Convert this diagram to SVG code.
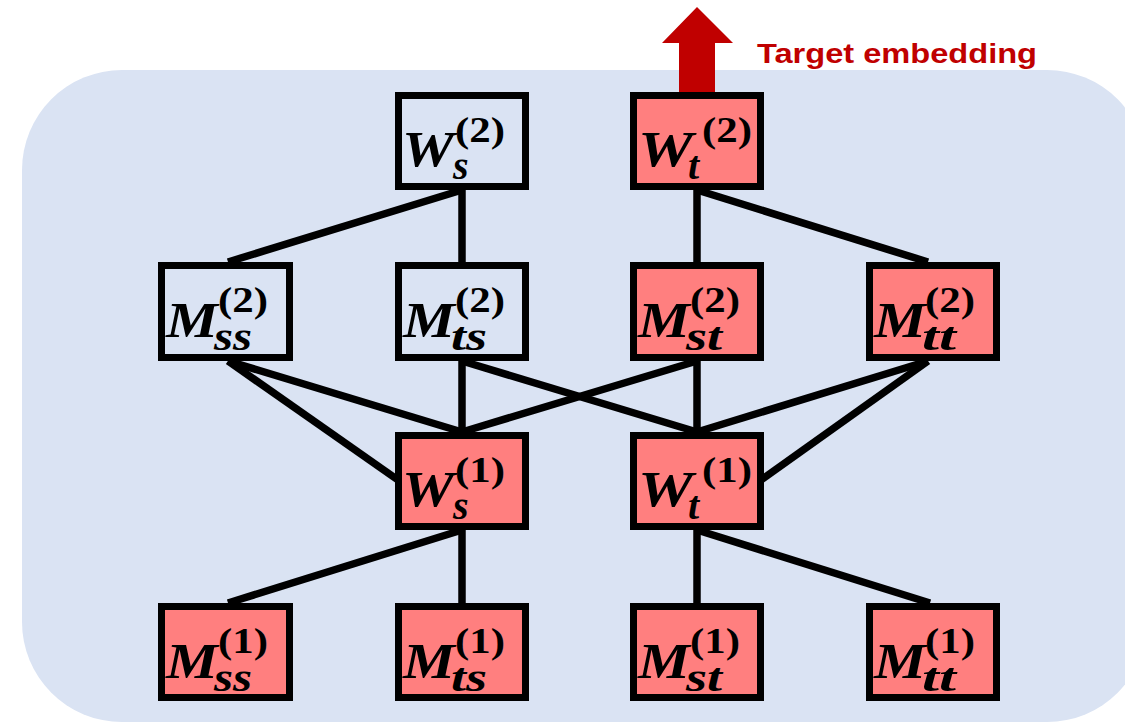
<svg xmlns="http://www.w3.org/2000/svg" width="1125" height="724" viewBox="0 0 1125 724">
  <style>
    .panel { fill: #DAE3F3; }
    .box { stroke: #000; stroke-width: 7; }
    .plain { fill: #DAE3F3; }
    .hot { fill: #FF7F7F; }
    .edge { stroke: #000; stroke-width: 7.5; stroke-linecap: butt; fill: none; }
    .main { font-family: "Liberation Serif", "Times New Roman", serif; font-weight: bold; font-style: italic; font-size: 50px; fill: #000; }
    .sup { font-family: "Liberation Serif", "Times New Roman", serif; font-weight: bold; font-size: 36px; fill: #000; }
    .sub { font-family: "Liberation Serif", "Times New Roman", serif; font-weight: bold; font-style: italic; font-size: 40px; fill: #000; }
    .label { font-family: "Liberation Sans", Arial, sans-serif; font-weight: bold; font-size: 28px; fill: #C00000; }
  </style>

  <!-- background panel -->
  <rect class="panel" x="22" y="70" width="1125" height="652" rx="100" ry="100"/>

  <!-- output arrow -->
  <g id="output">
    <path d="M679,95 L679,43 L662,43 L697,7 L733,43 L715,43 L715,95 Z" fill="#C00000"/>
    <text class="label" x="757" y="63" textLength="280" lengthAdjust="spacingAndGlyphs">Target embedding</text>
  </g>

  <!-- connectors -->
  <g id="connectors">
    <line class="edge" x1="462" y1="190" x2="228" y2="262"/>
    <line class="edge" x1="462" y1="190" x2="462" y2="262"/>
    <line class="edge" x1="697" y1="190" x2="697" y2="262"/>
    <line class="edge" x1="697" y1="190" x2="928" y2="262"/>
    <line class="edge" x1="228" y1="361" x2="462" y2="432"/>
    <line class="edge" x1="228" y1="361" x2="398" y2="480"/>
    <line class="edge" x1="462" y1="361" x2="462" y2="432"/>
    <line class="edge" x1="462" y1="361" x2="697" y2="432"/>
    <line class="edge" x1="697" y1="361" x2="462" y2="432"/>
    <line class="edge" x1="697" y1="361" x2="697" y2="432"/>
    <line class="edge" x1="928" y1="361" x2="697" y2="432"/>
    <line class="edge" x1="928" y1="361" x2="761" y2="480"/>
    <line class="edge" x1="462" y1="530" x2="228" y2="603"/>
    <line class="edge" x1="462" y1="530" x2="462" y2="603"/>
    <line class="edge" x1="697" y1="530" x2="697" y2="603"/>
    <line class="edge" x1="697" y1="530" x2="930" y2="603"/>
  </g>

  <!-- layer 2 -->
  <g id="Ws2">
    <rect class="box plain" x="398.5" y="95.5" width="127" height="91"/>
    <text class="main" x="402" y="166" textLength="52" lengthAdjust="spacingAndGlyphs">W</text>
    <text class="sup" x="455" y="142" textLength="50" lengthAdjust="spacingAndGlyphs">(2)</text>
    <text class="sub" x="453" y="179">s</text>
  </g>
  <g id="Wt2">
    <rect class="box hot" x="633.5" y="95.5" width="127" height="91"/>
    <text class="main" x="638" y="166" textLength="55" lengthAdjust="spacingAndGlyphs">W</text>
    <text class="sup" x="702" y="142" textLength="50" lengthAdjust="spacingAndGlyphs">(2)</text>
    <text class="sub" x="688" y="179">t</text>
  </g>

  <g id="Mss2">
    <rect class="box plain" x="161.5" y="265.5" width="128" height="92"/>
    <text class="main" x="166" y="337" textLength="52" lengthAdjust="spacingAndGlyphs">M</text>
    <text class="sup" x="218" y="312" textLength="50" lengthAdjust="spacingAndGlyphs">(2)</text>
    <text class="sub" x="214" y="350" textLength="38" lengthAdjust="spacingAndGlyphs">ss</text>
  </g>
  <g id="Mts2">
    <rect class="box plain" x="398.5" y="265.5" width="127" height="92"/>
    <text class="main" x="403" y="337" textLength="52" lengthAdjust="spacingAndGlyphs">M</text>
    <text class="sup" x="455" y="312" textLength="50" lengthAdjust="spacingAndGlyphs">(2)</text>
    <text class="sub" x="451" y="350" textLength="36" lengthAdjust="spacingAndGlyphs">ts</text>
  </g>
  <g id="Mst2">
    <rect class="box hot" x="633.5" y="265.5" width="127" height="92"/>
    <text class="main" x="638" y="337" textLength="52" lengthAdjust="spacingAndGlyphs">M</text>
    <text class="sup" x="690" y="312" textLength="50" lengthAdjust="spacingAndGlyphs">(2)</text>
    <text class="sub" x="686" y="350" textLength="36" lengthAdjust="spacingAndGlyphs">st</text>
  </g>
  <g id="Mtt2">
    <rect class="box hot" x="869.5" y="265.5" width="127" height="92"/>
    <text class="main" x="874" y="337" textLength="52" lengthAdjust="spacingAndGlyphs">M</text>
    <text class="sup" x="925" y="312" textLength="50" lengthAdjust="spacingAndGlyphs">(2)</text>
    <text class="sub" x="922" y="350" textLength="34" lengthAdjust="spacingAndGlyphs">tt</text>
  </g>

  <!-- layer 1 -->
  <g id="Ws1">
    <rect class="box hot" x="398.5" y="435.5" width="127" height="91"/>
    <text class="main" x="402" y="506" textLength="52" lengthAdjust="spacingAndGlyphs">W</text>
    <text class="sup" x="455" y="482" textLength="50" lengthAdjust="spacingAndGlyphs">(1)</text>
    <text class="sub" x="453" y="519">s</text>
  </g>
  <g id="Wt1">
    <rect class="box hot" x="633.5" y="435.5" width="127" height="91"/>
    <text class="main" x="638" y="506" textLength="55" lengthAdjust="spacingAndGlyphs">W</text>
    <text class="sup" x="702" y="482" textLength="50" lengthAdjust="spacingAndGlyphs">(1)</text>
    <text class="sub" x="688" y="519">t</text>
  </g>

  <g id="Mss1">
    <rect class="box hot" x="161.5" y="606.5" width="128" height="91"/>
    <text class="main" x="166" y="678" textLength="52" lengthAdjust="spacingAndGlyphs">M</text>
    <text class="sup" x="218" y="653" textLength="50" lengthAdjust="spacingAndGlyphs">(1)</text>
    <text class="sub" x="214" y="691" textLength="38" lengthAdjust="spacingAndGlyphs">ss</text>
  </g>
  <g id="Mts1">
    <rect class="box hot" x="398.5" y="606.5" width="127" height="91"/>
    <text class="main" x="403" y="678" textLength="52" lengthAdjust="spacingAndGlyphs">M</text>
    <text class="sup" x="455" y="653" textLength="50" lengthAdjust="spacingAndGlyphs">(1)</text>
    <text class="sub" x="451" y="691" textLength="36" lengthAdjust="spacingAndGlyphs">ts</text>
  </g>
  <g id="Mst1">
    <rect class="box hot" x="633.5" y="606.5" width="127" height="91"/>
    <text class="main" x="638" y="678" textLength="52" lengthAdjust="spacingAndGlyphs">M</text>
    <text class="sup" x="690" y="653" textLength="50" lengthAdjust="spacingAndGlyphs">(1)</text>
    <text class="sub" x="686" y="691" textLength="36" lengthAdjust="spacingAndGlyphs">st</text>
  </g>
  <g id="Mtt1">
    <rect class="box hot" x="869.5" y="606.5" width="127" height="91"/>
    <text class="main" x="874" y="678" textLength="52" lengthAdjust="spacingAndGlyphs">M</text>
    <text class="sup" x="925" y="653" textLength="50" lengthAdjust="spacingAndGlyphs">(1)</text>
    <text class="sub" x="922" y="691" textLength="34" lengthAdjust="spacingAndGlyphs">tt</text>
  </g>
</svg>
